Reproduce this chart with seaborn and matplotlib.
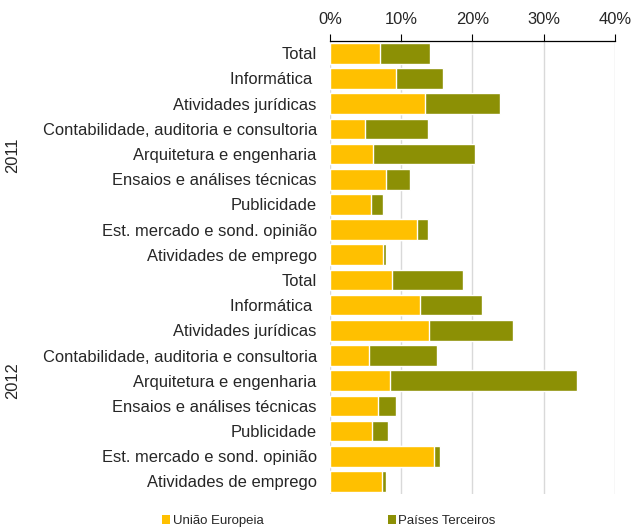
import numpy as np
import pandas as pd
import matplotlib
matplotlib.use("Agg")
import matplotlib.pyplot as plt
import seaborn as sns
from matplotlib.patches import Patch
from matplotlib.ticker import PercentFormatter

# Dados (percentagens)
sectores = ["Total", "Informática ", "Atividades jurídicas",
            "Contabilidade, auditoria e consultoria", "Arquitetura e engenharia",
            "Ensaios e análises técnicas", "Publicidade",
            "Est. mercado e sond. opinião", "Atividades de emprego"]
anos = ["2011", "2012"]
ue_2011 = [7.0, 9.3, 13.4, 4.9, 6.1, 7.8, 5.8, 12.2, 7.4]
pt_2011 = [7.0, 6.5, 10.4, 8.8, 14.2, 3.5, 1.7, 1.6, 0.5]
ue_2012 = [8.7, 12.7, 13.9, 5.5, 8.4, 6.7, 5.9, 14.6, 7.3]
pt_2012 = [9.9, 8.6, 11.8, 9.5, 26.3, 2.5, 2.3, 0.9, 0.6]
series = ["União Europeia", "Países Terceiros"]
cores = ["#FFC000", "#8C9005"]

linhas = []
for ano, ue, pt in [("2011", ue_2011, pt_2011), ("2012", ue_2012, pt_2012)]:
    for s, a, b in zip(sectores, ue, pt):
        linhas.append({"ano": ano, "sector": s, "linha": f"{ano}|{s}",
                       "ue": a, "total": a + b})
df = pd.DataFrame(linhas)
ordem = list(df["linha"])

sns.set_style("white")
plt.rcParams["font.family"] = ["Liberation Sans", "DejaVu Sans"]
fs = 11.9

fig = plt.figure(figsize=(6.39, 5.32), dpi=100)
ax = fig.add_axes([0.5164, 0.0714, 0.4460, 0.8521])

# barras empilhadas: total (verde) por baixo, UE (amarelo) por cima
sns.barplot(data=df, y="linha", x="total", order=ordem, color=cores[1],
            orient="h", width=0.82, saturation=1, ax=ax)
sns.barplot(data=df, y="linha", x="ue", order=ordem, color=cores[0],
            orient="h", width=0.82, saturation=1, ax=ax)

ax.set_xlim(0, 40)
ax.set_xticks([0, 10, 20, 30, 40])
ax.xaxis.set_major_formatter(PercentFormatter(decimals=0))
ax.xaxis.tick_top()
ax.tick_params(axis="x", top=True, direction="out", length=5, width=0.8,
               color="black", labelsize=fs, pad=5)
ax.tick_params(axis="y", left=False, labelsize=fs, pad=6)
ax.set_yticks(range(len(ordem)))
ax.set_yticklabels(list(df["sector"]))
ax.set_xlabel("")
ax.set_ylabel("")
ax.grid(axis="x", color="#D9D9D9", linewidth=1)
ax.set_axisbelow(True)
for lado in ["left", "right", "bottom"]:
    ax.spines[lado].set_visible(False)
ax.spines["top"].set_color("black")
ax.spines["top"].set_linewidth(0.9)

# rótulos dos anos
fig.text(0.020, 1 - 155 / 532, "2011", rotation=90, ha="center", va="center", fontsize=fs)
fig.text(0.020, 1 - 381 / 532, "2012", rotation=90, ha="center", va="center", fontsize=fs)

handles = [Patch(facecolor=c, edgecolor="none") for c in cores]
fig.legend(handles, series, loc="center", bbox_to_anchor=(0.515, 1 - 521 / 532),
           ncol=2, frameon=False, fontsize=9.5, handlelength=0.6, handleheight=0.6,
           handletextpad=0.2, columnspacing=9.4)

fig.savefig("out.png", dpi=100)
plt.close(fig)
